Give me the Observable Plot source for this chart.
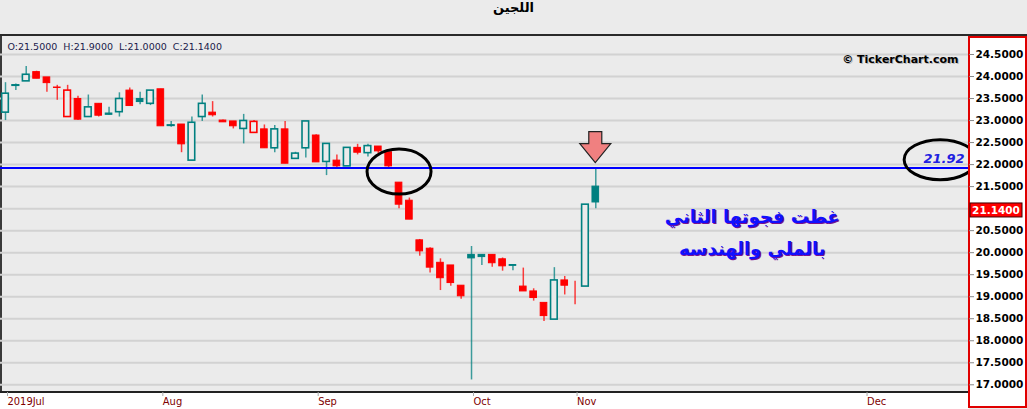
<!DOCTYPE html>
<html><head><meta charset="utf-8">
<script src="https://cdn.jsdelivr.net/npm/d3@7"></script>
<script src="https://cdn.jsdelivr.net/npm/@observablehq/plot@0.6"></script>
<style>
html,body{margin:0;padding:0;background:#ebebeb;width:1027px;height:409px;overflow:hidden;font-family:"DejaVu Sans",sans-serif}
#title{position:absolute;left:0;top:0;width:1027px;height:35px;line-height:36px;text-align:center;font:bold 13px "DejaVu Sans",sans-serif;color:#000}
#topline{position:absolute;left:0;top:34px;width:1027px;height:2px;background:#2a2a2a}
#leftline{position:absolute;left:0;top:36px;width:2px;height:356px;background:#3a3a3a}
#bottom{position:absolute;left:0;top:391px;width:969px;height:18px;background:#fff;border-top:2px solid #222;box-sizing:border-box}
#rightpanel{position:absolute;left:968px;top:36px;width:59px;height:372px;background:#fff;border:2px solid #e00000;box-sizing:border-box}
#chart{position:absolute;left:0;top:35px}
</style></head>
<body>
<div id="title">اللجين</div>
<div id="topline"></div>
<div id="leftline"></div>
<div id="bottom"></div>
<div id="rightpanel"></div>
<div id="chart"></div>
<script>
// ---- data ----
const opens  = [23.18,23.79,23.89,24.10,23.98,23.75,23.08,23.49,23.08,23.38,23.16,23.19,23.68,23.49,23.38,23.71,22.88,22.91,22.09,23.08,23.18,23.00,22.98,22.81,22.72,22.80,22.37,22.80,22.13,22.37,22.66,22.06,22.09,21.96,22.38,22.26,22.41,22.28,21.59,21.18,20.28,20.09,19.77,19.71,19.25,19.95,19.95,19.95,19.85,19.72,19.23,19.12,18.86,18.48,19.37,19.16,19.23,21.50];
const highs  = [23.86,23.83,24.23,24.12,23.98,23.80,23.80,23.55,23.58,23.38,23.30,23.63,23.74,23.64,23.68,23.71,22.98,22.91,23.08,23.58,23.43,23.01,22.98,23.14,23.00,22.90,22.89,22.98,22.28,22.98,22.68,22.47,22.22,22.38,22.46,22.46,22.41,22.28,21.59,21.24,20.30,20.11,19.86,19.71,19.25,20.14,19.95,19.95,19.88,19.73,19.65,19.18,18.86,19.66,19.46,19.35,21.09,21.90];
const lows   = [23.00,23.68,23.89,23.95,23.64,23.46,23.07,23.00,23.08,23.08,23.12,23.08,23.33,23.36,23.34,22.87,22.85,22.27,22.09,22.98,23.08,22.96,22.81,22.47,22.72,22.37,22.27,22.02,22.13,22.15,22.05,21.75,21.92,21.96,22.22,22.17,22.24,21.92,21.00,20.75,19.92,19.54,19.14,19.24,18.94,17.11,19.71,19.67,19.58,19.59,19.12,18.90,18.44,18.48,19.04,18.82,19.23,21.00];
const closes = [23.61,23.80,24.04,23.95,23.85,23.74,23.68,23.02,23.30,23.11,23.13,23.49,23.33,23.42,23.68,22.87,22.89,22.46,22.95,23.38,23.12,22.96,22.87,22.99,22.97,22.37,22.80,22.02,22.25,22.98,22.05,22.47,21.96,22.38,22.27,22.42,22.30,21.96,21.09,20.75,20.03,19.66,19.42,19.31,19.01,19.87,19.90,19.76,19.69,19.70,19.12,18.97,18.56,19.37,19.25,19.16,21.09,21.14];
const monthIdx   = [0, 15, 30, 45, 55, 83];
const monthNames = ["2019Jul", "Aug", "Sep", "Oct", "Nov", "Dec"];
const gridValues = [17.0,17.5,18.0,18.5,19.0,19.5,20.0,20.5,21.0,21.5,22.0,22.5,23.0,23.5,24.0,24.5];
const axisValues = [17.0,17.5,18.0,18.5,19.0,19.5,20.0,20.5,21.5,22.0,22.5,23.0,23.5,24.0,24.5];
const level = 21.92;
const lastO = 21.5, lastH = 21.9, lastL = 21.0, lastC = 21.14;
const headerText = `O:${lastO.toFixed(4)}  H:${lastH.toFixed(4)}  L:${lastL.toFixed(4)}  C:${lastC.toFixed(4)}`;
const noteText = "غطت فجوتها الثاني\nبالملي والهندسه";
const noteAt = {i: 72.1, p: 20.55};
const circle1 = {i: 38.05, p: 21.83};
const circle2 = {i: 90.3, p: 22.10};
const arrowAt = 57;

// ---- build ----
const TEAL = "#008080", RED = "#ff0000", BG = "#ebebeb";
const candles = closes.map((c, i) => ({
  i, o: opens[i], h: highs[i], l: lows[i], c,
  up: i === 0 ? true : c >= closes[i - 1],
  hollow: c >= opens[i]
}));
const col = d => d.up ? TEAL : RED;
const hw = 0.32;

const ellipse = (at, rx, ry, clip) => (index, scales, values, dims) => {
  const g = d3.create("svg:g");
  if (clip) {
    g.append("clipPath").attr("id", "frameclip").append("rect")
      .attr("x", dims.marginLeft).attr("y", dims.marginTop)
      .attr("width", dims.width - dims.marginLeft - dims.marginRight)
      .attr("height", dims.height - dims.marginTop - dims.marginBottom);
    g.attr("clip-path", "url(#frameclip)");
  }
  g.append("ellipse").attr("cx", scales.x(at.i)).attr("cy", scales.y(at.p))
    .attr("rx", rx).attr("ry", ry).attr("fill", "none").attr("stroke", "#000").attr("stroke-width", 3);
  return g.node();
};

const arrow = (index, scales) => {
  const x = scales.x(arrowAt), tip = scales.y(level) - 5;
  const pts = [[x, tip], [x - 15.5, tip - 19], [x - 6.5, tip - 19], [x - 6.5, tip - 31],
               [x + 6.5, tip - 31], [x + 6.5, tip - 19], [x + 15.5, tip - 19]];
  const g = d3.create("svg:g");
  g.append("polygon").attr("points", pts.map(p => p.join(",")).join(" "))
    .attr("fill", "#f08080").attr("stroke", "#222").attr("stroke-width", 1.2);
  return g.node();
};

const priceLabel = (index, scales, values, dims) => {
  const x0 = dims.width - dims.marginRight + 2, y0 = scales.y(lastC) + 1;
  const g = d3.create("svg:g");
  g.append("rect").attr("x", x0).attr("y", y0).attr("width", 52).attr("height", 14)
    .attr("fill", "#ff0000").attr("stroke", "#400000").attr("stroke-width", 1);
  g.append("text").attr("x", x0 + 26).attr("y", y0 + 7).attr("dy", "0.35em")
    .attr("text-anchor", "middle").attr("fill", "#fff").attr("font-weight", "bold")
    .attr("font-size", 10.5).attr("font-family", "DejaVu Sans").text(lastC.toFixed(4));
  return g.node();
};

const chart = Plot.plot({
  width: 1027, height: 374,
  marginTop: 1, marginBottom: 17, marginLeft: 0, marginRight: 59,
  x: {domain: [-0.4828, 92.99], axis: null},
  y: {domain: [16.825, 24.9087], axis: null},
  style: {background: "transparent", overflow: "visible", fontFamily: "DejaVu Sans"},
  marks: [
    Plot.ruleY(gridValues, {stroke: "#d2d2d2", strokeWidth: 2}),
    Plot.ruleX(candles, {x: "i", y1: "l", y2: "h", stroke: col, strokeWidth: 1.5, strokeOpacity: 0.75}),
    Plot.rect(candles, {
      x1: d => d.i - hw, x2: d => d.i + hw, y1: "o", y2: "c",
      fill: d => d.hollow ? BG : col(d), stroke: col,
      strokeWidth: d => d.hollow ? 1.6 : 1
    }),
    Plot.ruleY([level], {stroke: "#0000ff", strokeWidth: 2}),
    ellipse(circle1, 32, 22.5, false),
    ellipse(circle2, 36, 20, true),
    arrow,
    Plot.text([level], {y: d => d, frameAnchor: "right", text: d => d.toFixed(2), textAnchor: "end",
      dx: -4, dy: -9, fill: "#2020e0", fontWeight: "bold", fontStyle: "italic", fontSize: 13}),
    Plot.text([noteText], {x: noteAt.i, y: noteAt.p, text: d => d, dx: 1.2, dy: 1.2, fill: "#7a1090",
      fontWeight: "bold", fontSize: 18, lineHeight: 1.78, textAnchor: "middle"}),
    Plot.text([noteText], {x: noteAt.i, y: noteAt.p, text: d => d, fill: "#1010ff",
      fontWeight: "bold", fontSize: 18, lineHeight: 1.78, textAnchor: "middle"}),
    Plot.text([headerText], {frameAnchor: "top-left", text: d => d, textAnchor: "start", dx: 7, dy: 7,
      fill: "#1a1a4a", fontSize: 9.5}),
    Plot.text(["© TickerChart.com"], {frameAnchor: "top-right", text: d => d, textAnchor: "end", dx: -9, dy: 20,
      fill: "#b8b8b8", fontSize: 11, fontWeight: "bold"}),
    Plot.text(["© TickerChart.com"], {frameAnchor: "top-right", text: d => d, textAnchor: "end", dx: -10, dy: 19,
      fill: "#000", fontSize: 11, fontWeight: "bold"}),
    Plot.axisY(axisValues, {anchor: "right", tickSize: 5, tickPadding: 2, label: null,
      tickFormat: d => d.toFixed(4), stroke: "#888", fill: "#000", fontWeight: "bold", fontSize: 10.5}),
    priceLabel,
    Plot.axisX(monthIdx, {anchor: "bottom", tickSize: 4, tickPadding: 1, label: null,
      tickFormat: d => monthNames[monthIdx.indexOf(d)], textAnchor: "start", dx: 2,
      stroke: "#aaa", fill: "#800000", fontSize: 11, fontFamily: "DejaVu Sans Condensed, Liberation Sans Narrow, sans-serif"})
  ]
});
document.getElementById("chart").appendChild(chart);
</script>
</body></html>
